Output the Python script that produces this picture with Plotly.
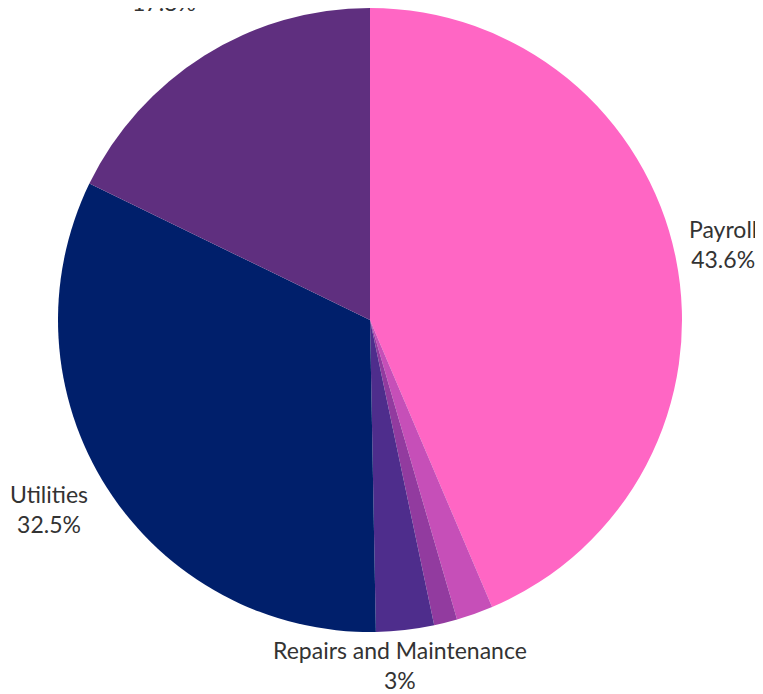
import math
import plotly.graph_objects as go

labels = ["Payroll", "Supplies", "Insurance", "Repairs and Maintenance", "Utilities", "Rent"]
values = [43.6, 1.9, 1.2, 3.0, 32.5, 17.8]
colors = ["#ff66c4", "#c64fb8", "#923b9f", "#4e2d8c", "#001f6b", "#5f2f7f"]
shown = [True, False, False, True, True, True]

# layout of the pie in figure pixels
W, H = 763, 694
cx, cy, r = 362, 312, 312
label_gap = [9, 0, 0, 9, 9, 40]
label_dx = [2, 0, 0, -6, -10, 15]
label_dy = [12, 0, 0, 5, 15, 4]

fig = go.Figure(
    go.Pie(
        labels=labels,
        values=values,
        sort=False,
        direction="clockwise",
        rotation=0,
        marker=dict(colors=colors, line=dict(width=0)),
        textinfo="none",
        hoverinfo="label+percent",
        showlegend=False,
        domain=dict(x=[(cx - r) / W, (cx + r) / W], y=[1 - (cy + r) / H, 1 - (cy - r) / H]),
    )
)

# outside labels placed at each slice's mid angle
total = sum(values)
start = 0
for i, (lab, v) in enumerate(zip(labels, values)):
    mid = (start + v / 2) / total * 2 * math.pi
    start += v
    if not shown[i]:
        continue
    sx, sy = math.sin(mid), math.cos(mid)
    px = cx + (r + label_gap[i]) * sx
    py = cy - (r + label_gap[i]) * sy
    xa = "left" if sx > 0.3 else ("right" if sx < -0.3 else "center")
    ya = "bottom" if sy > 0.3 else ("top" if sy < -0.3 else "middle")
    pct = f"{v / total * 100:.1f}".rstrip("0").rstrip(".")
    fig.add_annotation(
        x=px / W, y=1 - py / H, xref="paper", yref="paper",
        text=f"{lab}<br>{pct}%", showarrow=False,
        xanchor=xa, yanchor=ya, align="center",
        xshift=label_dx[i], yshift=label_dy[i],
        font=dict(family="Lato", size=23, color="#333333"),
    )

fig.update_layout(
    width=W,
    height=H,
    margin=dict(l=0, r=0, t=0, b=0),
    paper_bgcolor="white",
    font=dict(family="Lato"),
)

fig.write_html("out.html")
